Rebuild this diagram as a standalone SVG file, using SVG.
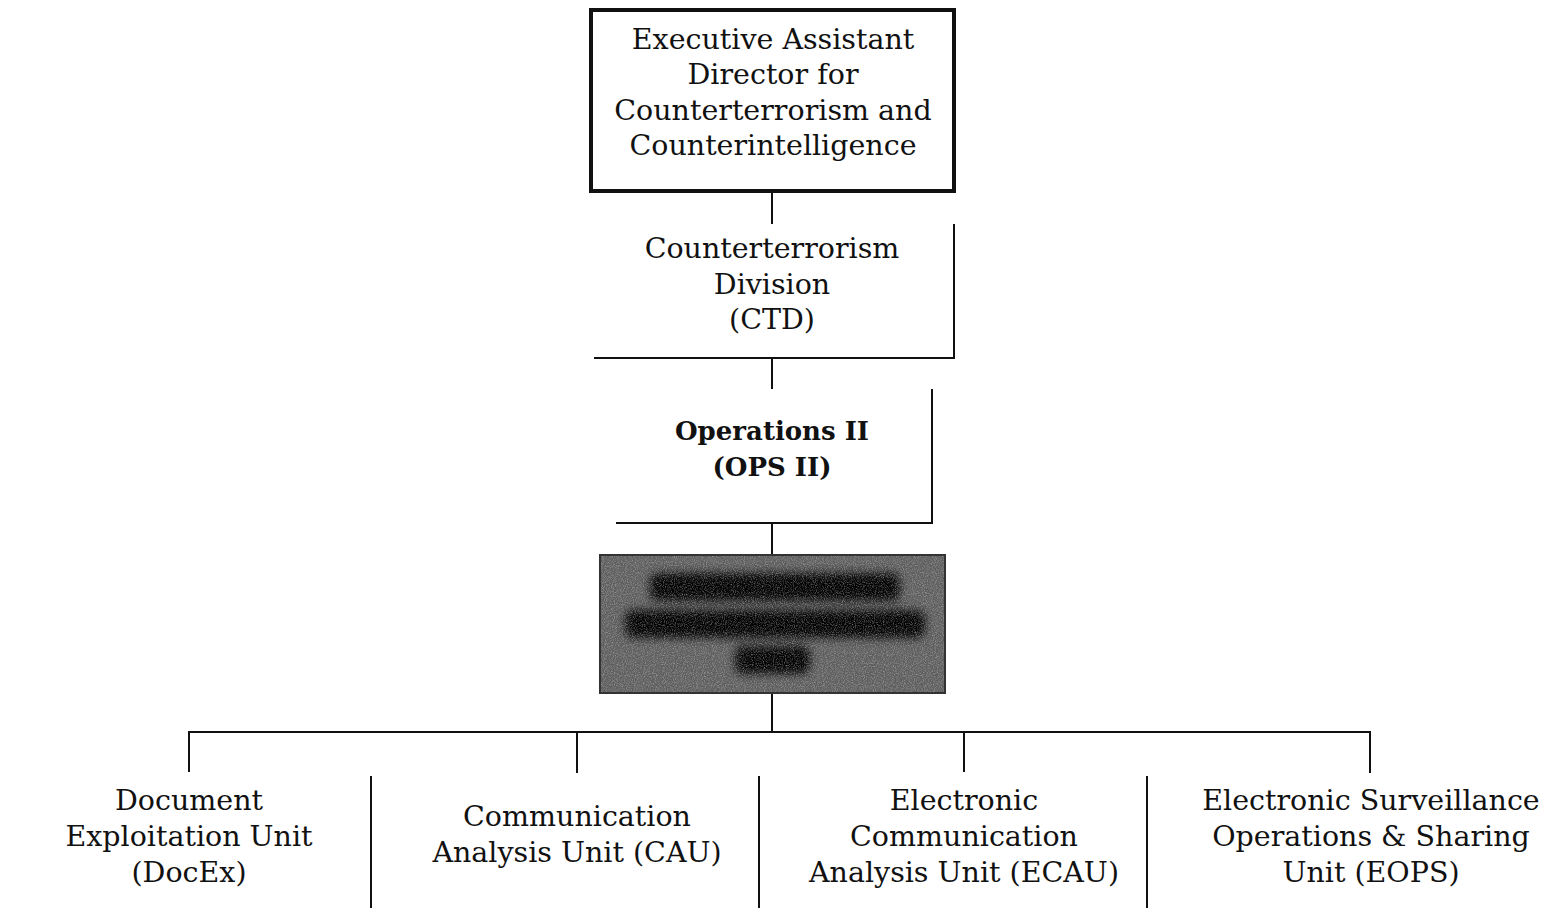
<svg xmlns="http://www.w3.org/2000/svg" width="1558" height="908" viewBox="0 0 1558 908">
<defs>
<style>
.t{font-family:"DejaVu Serif","Liberation Serif",serif;font-size:28.5px;fill:#111;text-anchor:middle}
.b{font-weight:bold;font-size:26px}
.ln{stroke:#111;stroke-width:2;fill:none}
</style>
<filter id="noise" x="0" y="0" width="100%" height="100%">
<feTurbulence type="fractalNoise" baseFrequency="0.9" numOctaves="2" seed="3" result="n"/>
<feColorMatrix type="matrix" values="0 0 0 0 0.6  0 0 0 0 0.6  0 0 0 0 0.6  1.1 0 0 0 -0.45" in="n" result="c"/>
<feComposite in="c" in2="SourceGraphic" operator="in"/>
</filter>
<filter id="blur"><feGaussianBlur stdDeviation="5"/></filter>
</defs>
<rect width="1558" height="908" fill="#fff"/>
<g id="connectors" class="ln">
<line x1="772" y1="192" x2="772" y2="224"/>
<line x1="772" y1="358" x2="772" y2="389"/>
<line x1="772" y1="523" x2="772" y2="555"/>
<line x1="772" y1="693" x2="772" y2="732"/>
<polyline points="189,772 189,732 1370,732 1370,773"/>
<line x1="577" y1="732" x2="577" y2="773"/>
<line x1="964" y1="732" x2="964" y2="772"/>
</g>
<g id="ead">
<rect x="591" y="10" width="363" height="181" fill="#fff" stroke="#111" stroke-width="4"/>
<text class="t" x="773" y="49">Executive Assistant</text>
<text class="t" x="773" y="84">Director for</text>
<text class="t" x="773" y="120">Counterterrorism and</text>
<text class="t" x="773" y="155">Counterintelligence</text>
</g>
<g id="ctd">
<polyline class="ln" points="954,224 954,358 594,358"/>
<text class="t" x="772" y="258">Counterterrorism</text>
<text class="t" x="772" y="294">Division</text>
<text class="t" x="772" y="329">(CTD)</text>
</g>
<g id="ops2">
<polyline class="ln" points="932,389 932,523 616,523"/>
<text class="t b" x="772" y="440">Operations II</text>
<text class="t b" x="772" y="476">(OPS II)</text>
</g>
<g id="redacted">
<rect x="600" y="555" width="345" height="138" fill="#5e5e5e"/>
<g filter="url(#blur)" fill="#000">
<rect x="650" y="573" width="250" height="28" rx="8"/>
<rect x="625" y="610" width="300" height="28" rx="8"/>
<rect x="735" y="646" width="75" height="28" rx="8"/>
</g>
<rect x="600" y="555" width="345" height="138" fill="#fff" filter="url(#noise)"/>
<rect x="600" y="555" width="345" height="138" fill="none" stroke="#333" stroke-width="2"/>
</g>
<g id="docex">
<text class="t" x="189" y="810">Document</text>
<text class="t" x="189" y="846">Exploitation Unit</text>
<text class="t" x="189" y="882">(DocEx)</text>
</g>
<line class="ln" x1="371" y1="776" x2="371" y2="908"/>
<g id="cau">
<text class="t" x="577" y="826">Communication</text>
<text class="t" x="577" y="862">Analysis Unit (CAU)</text>
</g>
<line class="ln" x1="759" y1="776" x2="759" y2="908"/>
<g id="ecau">
<text class="t" x="964" y="810">Electronic</text>
<text class="t" x="964" y="846">Communication</text>
<text class="t" x="964" y="882">Analysis Unit (ECAU)</text>
</g>
<line class="ln" x1="1147" y1="776" x2="1147" y2="908"/>
<g id="eops">
<text class="t" x="1371" y="810">Electronic Surveillance</text>
<text class="t" x="1371" y="846">Operations &amp; Sharing</text>
<text class="t" x="1371" y="882">Unit (EOPS)</text>
</g>
</svg>
